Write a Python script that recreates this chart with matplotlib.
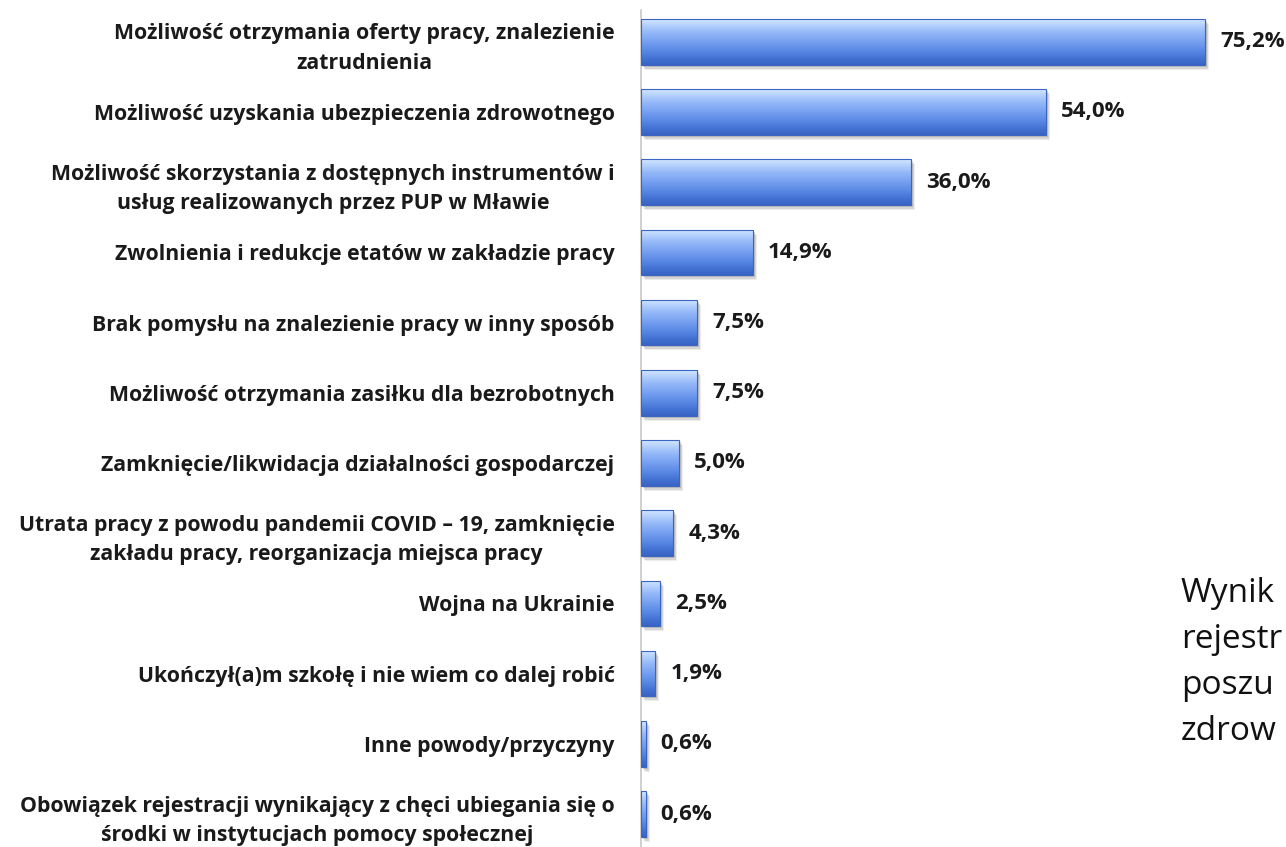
import numpy as np
import matplotlib
matplotlib.use("Agg")
import matplotlib.pyplot as plt
import matplotlib.transforms as mtransforms
from matplotlib.colors import LinearSegmentedColormap

categories = [
    "Możliwość otrzymania oferty pracy, znalezienie\nzatrudnienia",
    "Możliwość uzyskania ubezpieczenia zdrowotnego",
    "Możliwość skorzystania z dostępnych instrumentów i\nusług realizowanych przez PUP w Mławie",
    "Zwolnienia i redukcje etatów w zakładzie pracy",
    "Brak pomysłu na znalezienie pracy w inny sposób",
    "Możliwość otrzymania zasiłku dla bezrobotnych",
    "Zamknięcie/likwidacja działalności gospodarczej",
    "Utrata pracy z powodu pandemii COVID – 19, zamknięcie\nzakładu pracy, reorganizacja miejsca pracy",
    "Wojna na Ukrainie",
    "Ukończył(a)m szkołę i nie wiem co dalej robić",
    "Inne powody/przyczyny",
    "Obowiązek rejestracji wynikający z chęci ubiegania się o\nśrodki w instytucjach pomocy społecznej",
]
values = [75.2, 54.0, 36.0, 14.9, 7.5, 7.5, 5.0, 4.3, 2.5, 1.9, 0.6, 0.6]
# side text is cropped by the slide edge in the original
side_text = ["Wynik", "rejestr", "poszu", "zdrow"]

plt.rcParams["font.family"] = ["Open Sans", "DejaVu Sans"]

fig = plt.figure(figsize=(12.86, 8.47), dpi=100)
ax = fig.add_axes([641 / 1286, 0.0, 600 / 1286, 0.988])

y = np.arange(len(categories))
bh = 0.65

# soft shadow under the bars
for dx, dy, a in [(2, -2, 0.35), (3, -4, 0.25), (4, -5, 0.15)]:
    shadow = ax.barh(y, values, height=bh, color="#8c8c8c", alpha=a, linewidth=0, zorder=1)
    off = mtransforms.ScaledTranslation(dx / 100, dy / 100, fig.dpi_scale_trans)
    for s in shadow:
        s.set_transform(ax.transData + off)

bars = ax.barh(y, values, height=bh, color="none", edgecolor="#3a65c2", linewidth=0.8, zorder=3)

grad = LinearSegmentedColormap.from_list(
    "bar", ["#d4e7ff", "#b3d0fd", "#95b9f8", "#80a8f3", "#6b96ec", "#5686e2", "#4372d4", "#3863c2"])
g = np.linspace(0, 1, 256).reshape(-1, 1)
for b in bars:
    x0, y0 = b.get_x(), b.get_y()
    w, h = b.get_width(), b.get_height()
    im = ax.imshow(g, cmap=grad, aspect="auto", extent=[x0, x0 + w, y0 + h, y0],
                   origin="upper", zorder=2)
    im.set_clip_path(b)

for yi, v in zip(y, values):
    ax.text(v + 2.0, yi, f"{v:.1f}%".replace(".", ","), va="center", ha="left",
            fontsize=16, fontweight="bold", color="#1a1a1a")

ax.set_xlim(0, 80)
ax.set_ylim(11.47, -0.45)
ax.set_yticks(y)
ax.set_yticklabels(categories, fontsize=15.3, fontweight="bold", color="#1a1a1a",
                   multialignment="center", linespacing=1.55)
ax.tick_params(axis="y", length=0, pad=19)
ax.set_xticks([])
for s in ["top", "right", "bottom"]:
    ax.spines[s].set_visible(False)
ax.spines["left"].set_color("#c8c8c8")
ax.spines["left"].set_linewidth(1.2)

fig.text(1181 / 1286, 1 - 577 / 847, "\n".join(side_text), fontsize=24,
         va="top", ha="left", linespacing=1.52, color="#111111")

fig.savefig("out.png", dpi=100)
